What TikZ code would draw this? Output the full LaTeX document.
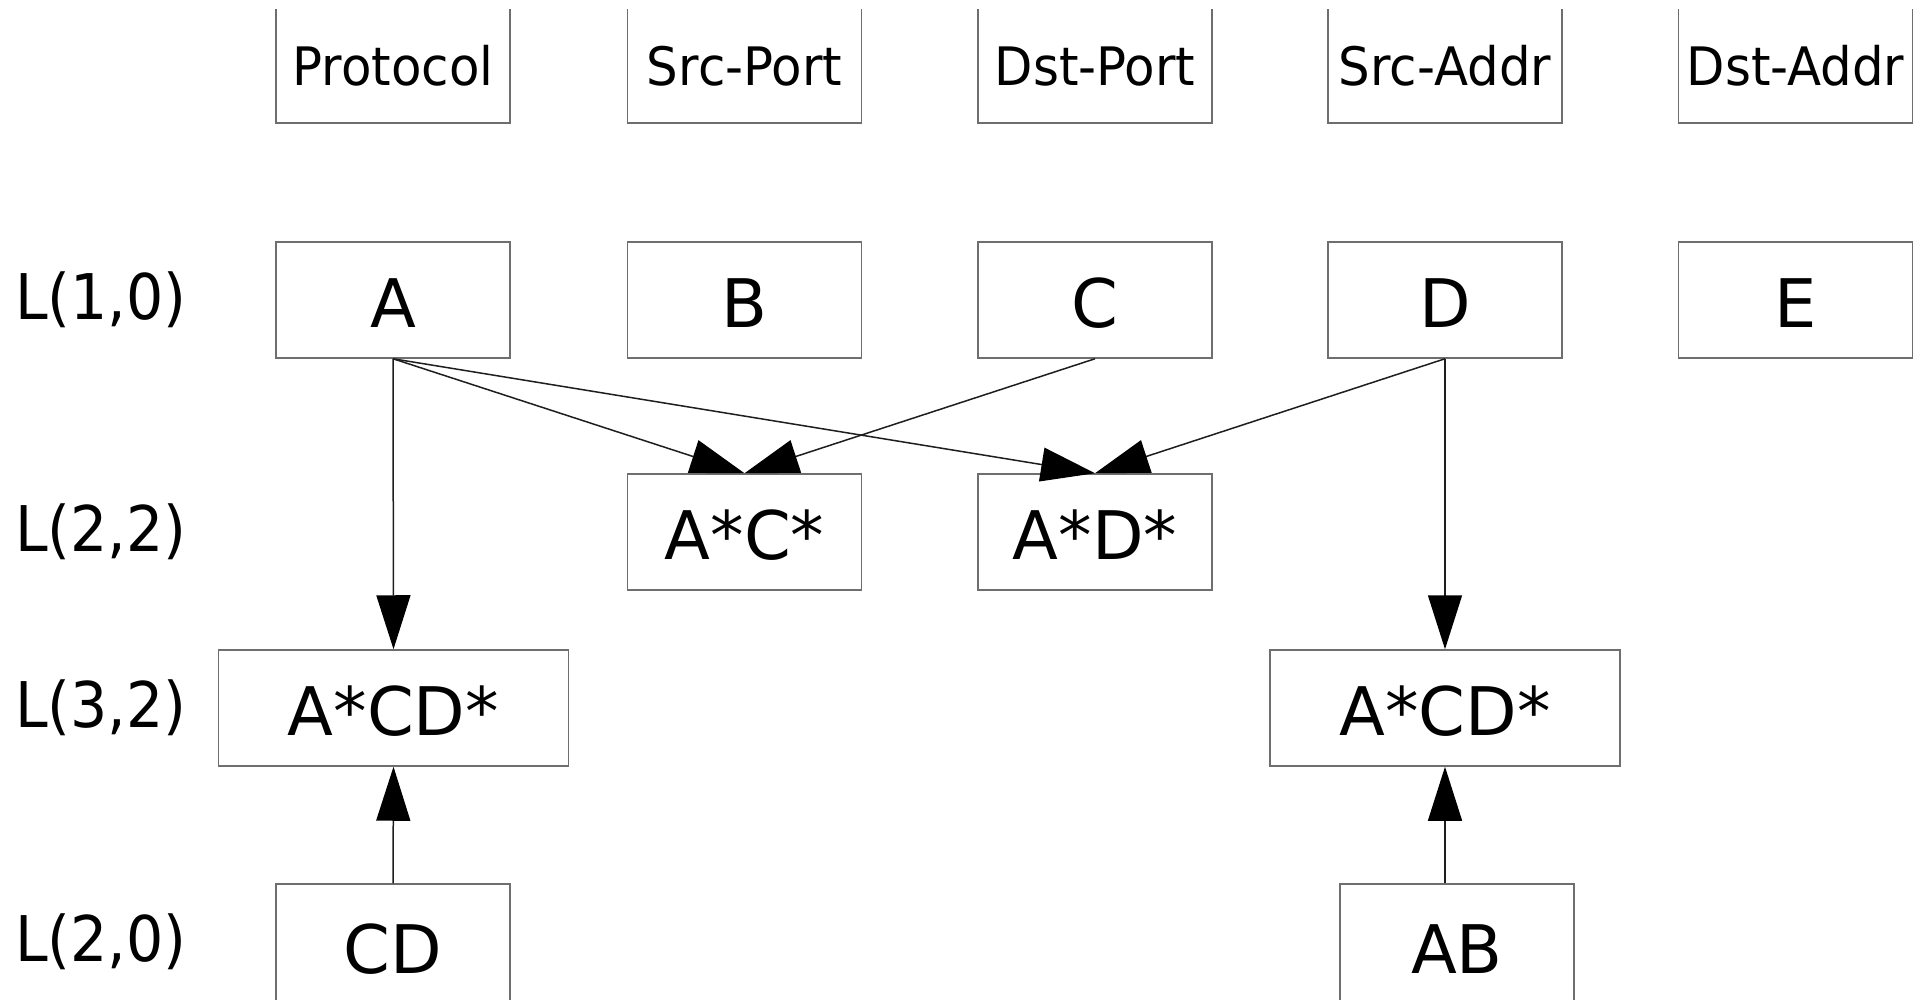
\documentclass[tikz,border=0pt]{standalone}
\usepackage{fontspec}
\setmainfont{DejaVu Sans}
\newfontfamily\hdrfont[FakeStretch=0.94]{DejaVu Sans}
\newfontfamily\lblfont[FakeStretch=0.93]{DejaVu Sans}
\usetikzlibrary{arrows.meta}
\definecolor{boxgray}{RGB}{110,110,110}
\definecolor{arrgray}{RGB}{30,30,30}
\begin{document}
\begin{tikzpicture}[x=1pt,y=-1pt,
  box/.style={draw=boxgray, line width=1.5pt, minimum width=234pt, minimum height=116pt, inner sep=0pt, text height=55pt, text depth=0pt, font=\fontsize{67}{75}\selectfont},
  hdr/.style={box, text height=42pt, font=\hdrfont\fontsize{53}{60}\selectfont},
  wide/.style={box, minimum width=350pt},
  lbl/.style={anchor=west, inner sep=0pt, font=\lblfont\fontsize{63}{70}\selectfont},
  arr/.style={draw=arrgray, line width=1.5pt, -{Triangle[length=54pt,width=34pt,color=black]}}]
\useasboundingbox (0,0) rectangle (1917,1000);
\clip (0,10) rectangle (1917,1000);
% header row
\node[hdr] (h1) at (393,65) {Protocol};
\node[hdr] (h2) at (744.5,65) {Src-Port};
\node[hdr] (h3) at (1095,65) {Dst-Port};
\node[hdr] (h4) at (1445,65) {Src-Addr};
\node[hdr] (h5) at (1795.5,65) {Dst-Addr};
% L(1,0)
\node[box] (A) at (393,300) {A};
\node[box] (B) at (744.5,300) {B};
\node[box] (C) at (1095,300) {C};
\node[box] (D) at (1445,300) {D};
\node[box] (E) at (1795.5,300) {E};
% L(2,2)
\node[box] (AC) at (744.5,532) {A*C*};
\node[box] (AD) at (1095,532) {A*D*};
% L(3,2)
\node[wide] (lcd) at (393.5,708) {A*CD*};
\node[wide] (rcd) at (1445,708) {A*CD*};
% L(2,0)
\node[box, minimum height=124pt] (CD) at (393,946) {CD};
\node[box, minimum height=124pt] (AB) at (1457,946) {AB};
% level labels
\node[lbl] (l1) at (15,300) {L(1,0)};
\node[lbl] (l2) at (15,532) {L(2,2)};
\node[lbl] (l3) at (15,708) {L(3,2)};
\node[lbl] (l4) at (15,942) {L(2,0)};
% connectors
\draw[arr] (A.south) -- (lcd.north);
\draw[arr] (A.south) -- (AC.north);
\draw[arr] (A.south) -- (AD.north);
\draw[arr] (C.south) -- (AC.north);
\draw[arr] (D.south) -- (AD.north);
\draw[arr] (D.south) -- (rcd.north);
\draw[arr] (CD.north) -- (lcd.south);
\draw[arr] (AB.north -| rcd.south) -- (rcd.south);
\end{tikzpicture}
\end{document}
